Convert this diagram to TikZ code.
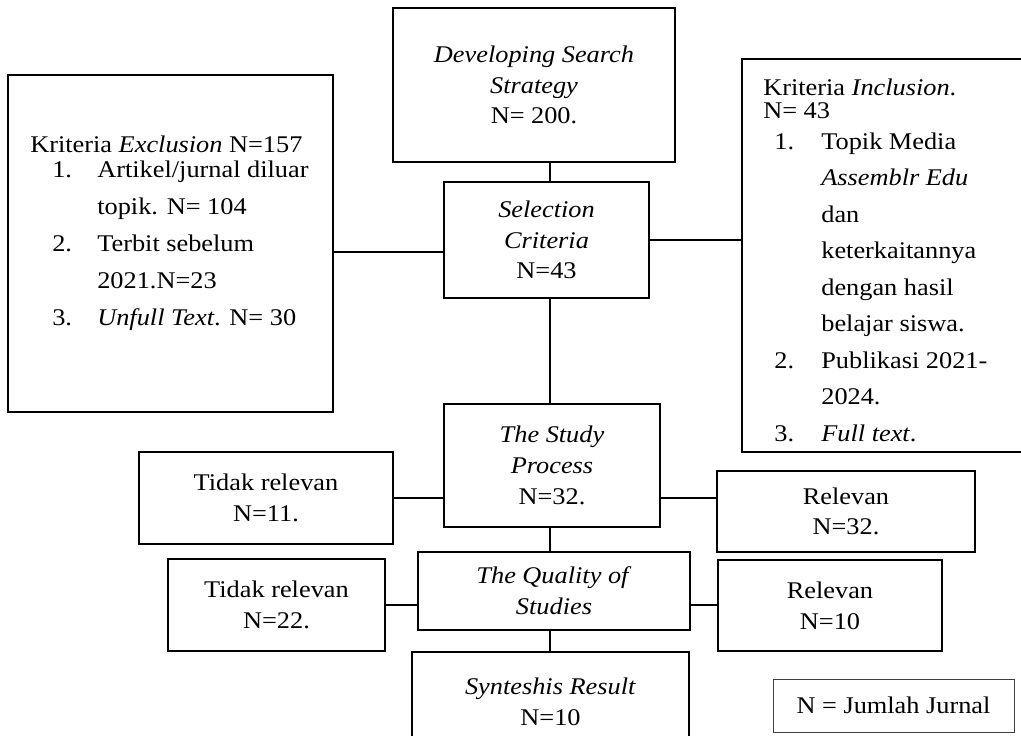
\documentclass[tikz,border=0pt]{standalone}
\usepackage{fontspec}
\setmainfont[FakeStretch=1.1]{Liberation Serif}
\newcommand{\pxl}{0.0235cm}
\newcommand{\exnum}[1]{\makebox[44.8pt][l]{\hspace*{14.7pt}#1}}
\newcommand{\innum}[1]{\makebox[38.8pt][l]{\hspace*{7.4pt}#1}}
\begin{document}
\begin{tikzpicture}[x=\pxl,y=-\pxl,
  box/.style={draw, line width=0.75pt, align=center, inner sep=0pt,
    font=\fontsize{16}{20.5}\selectfont},
  listtext/.style={anchor=north west, align=left, inner sep=0pt,
    font=\fontsize{16}{15.4}\selectfont},
  link/.style={line width=0.75pt}]
\useasboundingbox (0,0) rectangle (1021,735);
% main column
\node[box, minimum width=282*\pxl, minimum height=154*\pxl] (dev) at (534,85) {\textit{Developing Search}\\ \textit{Strategy}\\ N= 200.};
\node[box, minimum width=205*\pxl, minimum height=116*\pxl] (sel) at (546.5,240) {\textit{Selection}\\ \textit{Criteria}\\ N=43};
\node[box, minimum width=216*\pxl, minimum height=123*\pxl] (study) at (552,465.5) {\textit{The Study}\\ \textit{Process}\\ N=32.};
\node[box, minimum width=272*\pxl, minimum height=78*\pxl] (qual) at (554,591) {\textit{The Quality of}\\ \textit{Studies}};
\node[box, minimum width=277*\pxl, minimum height=100*\pxl] (syn) at (550.5,702) {\textit{Synteshis Result}\\ N=10};
% criteria boxes
\node[box, minimum width=325*\pxl, minimum height=337*\pxl] (excl) at (170.5,243.5) {};
\node[listtext] (excltxt) at (30,136) {Kriteria \textit{Exclusion} N=157\\[1.3pt]
  \exnum{1.}Artikel/jurnal diluar\\[9.2pt]
  \exnum{}topik. N= 104\\[9.2pt]
  \exnum{2.}Terbit sebelum\\[9.2pt]
  \exnum{}2021.N=23\\[9.2pt]
  \exnum{3.}\textit{Unfull Text}. N= 30};
\node[box, minimum width=298*\pxl, minimum height=393*\pxl] (incl) at (891,255.5) {};
\node[listtext] (incltxt) at (763,79) {Kriteria \textit{Inclusion}.\\
  N= 43\\[5pt]
  \innum{1.}Topik Media\\[9pt]
  \innum{}\textit{Assemblr Edu}\\[9pt]
  \innum{}dan\\[9pt]
  \innum{}keterkaitannya\\[9pt]
  \innum{}dengan hasil\\[9pt]
  \innum{}belajar siswa.\\[9pt]
  \innum{2.}Publikasi 2021-\\[9pt]
  \innum{}2024.\\[9pt]
  \innum{3.}\textit{Full text}.};
% side boxes
\node[box, minimum width=254*\pxl, minimum height=92*\pxl] (tr1) at (266,498) {Tidak relevan\\ N=11.};
\node[box, minimum width=258*\pxl, minimum height=81*\pxl] (rel1) at (846,511.5) {Relevan\\ N=32.};
\node[box, minimum width=217*\pxl, minimum height=92*\pxl] (tr2) at (276.5,605) {Tidak relevan\\ N=22.};
\node[box, minimum width=224*\pxl, minimum height=91*\pxl] (rel2) at (830,605.5) {Relevan\\ N=10};
\node[box, line width=0.5pt, draw=black!75, minimum width=241*\pxl, minimum height=53*\pxl] (legend) at (893.5,705.5) {N = Jumlah Jurnal};
% connectors
\coordinate (spine) at (550,0);
\coordinate (exclrow) at (0,252);
\draw[link] (dev.south -| spine) -- (sel.north -| spine);
\draw[link] (excl.east |- exclrow) -- (sel.west |- exclrow);
\draw[link] (sel.east) -- (incl.west |- sel.east);
\draw[link] (sel.south -| spine) -- (study.north -| spine);
\draw[link] (tr1.east) -- (study.west |- tr1.east);
\draw[link] (study.east |- tr1.east) -- (rel1.west |- tr1.east);
\draw[link] (study.south -| spine) -- (qual.north -| spine);
\draw[link] (tr2.east) -- (qual.west |- tr2.east);
\draw[link] (qual.east |- tr2.east) -- (rel2.west |- tr2.east);
\draw[link] (qual.south -| spine) -- (syn.north -| spine);
\end{tikzpicture}
\end{document}
